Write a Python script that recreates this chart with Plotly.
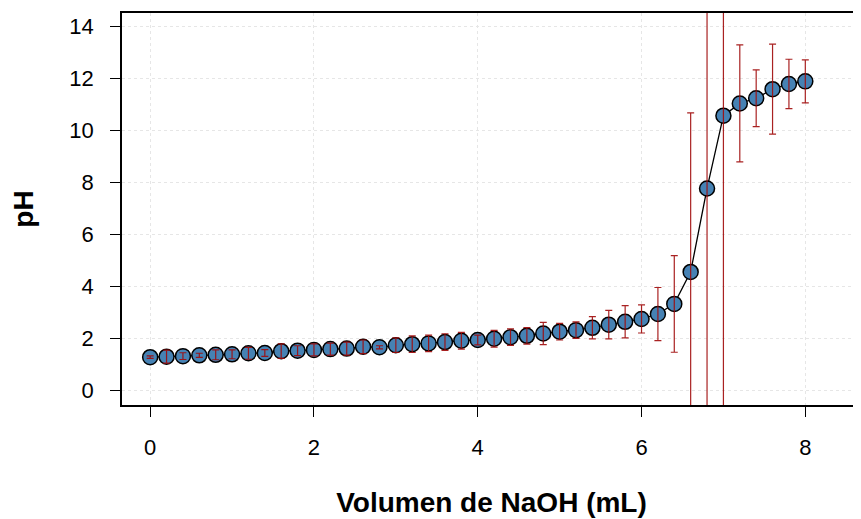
import plotly.graph_objects as go

# titration data: NaOH volume (mL) vs measured pH, with spread
volume = [0.0, 0.2, 0.4, 0.6, 0.8, 1.0, 1.2, 1.4, 1.6, 1.8,
          2.0, 2.2, 2.4, 2.6, 2.8, 3.0, 3.2, 3.4, 3.6, 3.8,
          4.0, 4.2, 4.4, 4.6, 4.8, 5.0, 5.2, 5.4, 5.6, 5.8,
          6.0, 6.2, 6.4, 6.6, 6.8, 7.0, 7.2, 7.4, 7.6, 7.8, 8.0]
ph = [1.29, 1.31, 1.33, 1.36, 1.38, 1.40, 1.44, 1.45, 1.52, 1.54,
      1.57, 1.60, 1.62, 1.69, 1.67, 1.75, 1.79, 1.82, 1.87, 1.92,
      1.95, 2.00, 2.06, 2.11, 2.20, 2.27, 2.33, 2.42, 2.54, 2.65,
      2.76, 2.95, 3.34, 4.57, 7.78, 10.58, 11.05, 11.25, 11.60, 11.80, 11.90]
ph_err = [0.05, 0.25, 0.13, 0.08, 0.19, 0.17, 0.23, 0.13, 0.28, 0.19,
          0.23, 0.23, 0.25, 0.26, 0.06, 0.28, 0.32, 0.32, 0.32, 0.32,
          0.19, 0.32, 0.32, 0.32, 0.43, 0.32, 0.32, 0.43, 0.55, 0.62,
          0.54, 1.02, 1.86, 6.12, 9.5, 12.0, 2.25, 1.09, 1.73, 0.95, 0.83]

x_ticks = [0, 2, 4, 6, 8]
y_ticks = [0, 2, 4, 6, 8, 10, 12, 14]

FONT = "Liberation Sans, Arial, Helvetica, sans-serif"

fig = go.Figure()

# line + points
fig.add_trace(go.Scatter(
    x=volume, y=ph,
    mode="lines+markers",
    line=dict(color="black", width=1.3),
    marker=dict(size=15, color="#4682B4", line=dict(color="black", width=1.5)),
    showlegend=False,
))

# error bars drawn on top of the points (R arrows() style)
fig.add_trace(go.Scatter(
    x=volume, y=ph,
    mode="markers",
    marker=dict(size=1, color="rgba(0,0,0,0)"),
    error_y=dict(type="data", array=ph_err, visible=True,
                 color="rgba(160,10,10,0.9)", thickness=1.2, width=3.5),
    showlegend=False,
    hoverinfo="skip",
))

# page body has an 8px margin, so margins are trimmed by that much
fig.update_layout(
    width=861, height=519,
    margin=dict(l=114, r=8, t=5, b=122),
    paper_bgcolor="white", plot_bgcolor="white",
    font=dict(family=FONT, color="black", size=22),
)

fig.update_xaxes(
    range=[-0.344, 8.68],
    tickvals=x_ticks,
    ticks="outside", ticklen=10, tickwidth=1.3, tickcolor="black",
    ticklabelstandoff=12,
    showline=True, linecolor="black", linewidth=1.5, mirror=True,
    showgrid=True, gridcolor="#e6e6e6", griddash="dot", gridwidth=1,
    zeroline=False, automargin=False,
    title=dict(text="<b>Volumen de NaOH (mL)</b>", font=dict(size=28), standoff=33),
)

fig.update_yaxes(
    range=[-0.55, 14.53],
    tickvals=y_ticks,
    ticks="outside", ticklen=10, tickwidth=1.3, tickcolor="black",
    ticklabelstandoff=12,
    showline=True, linecolor="black", linewidth=1.5, mirror=False,
    showgrid=True, gridcolor="#e6e6e6", griddash="dot", gridwidth=1,
    zeroline=False, automargin=False,
    title=dict(text="<b>pH</b>", font=dict(size=28), standoff=28),
)

fig.write_html("out.html")
